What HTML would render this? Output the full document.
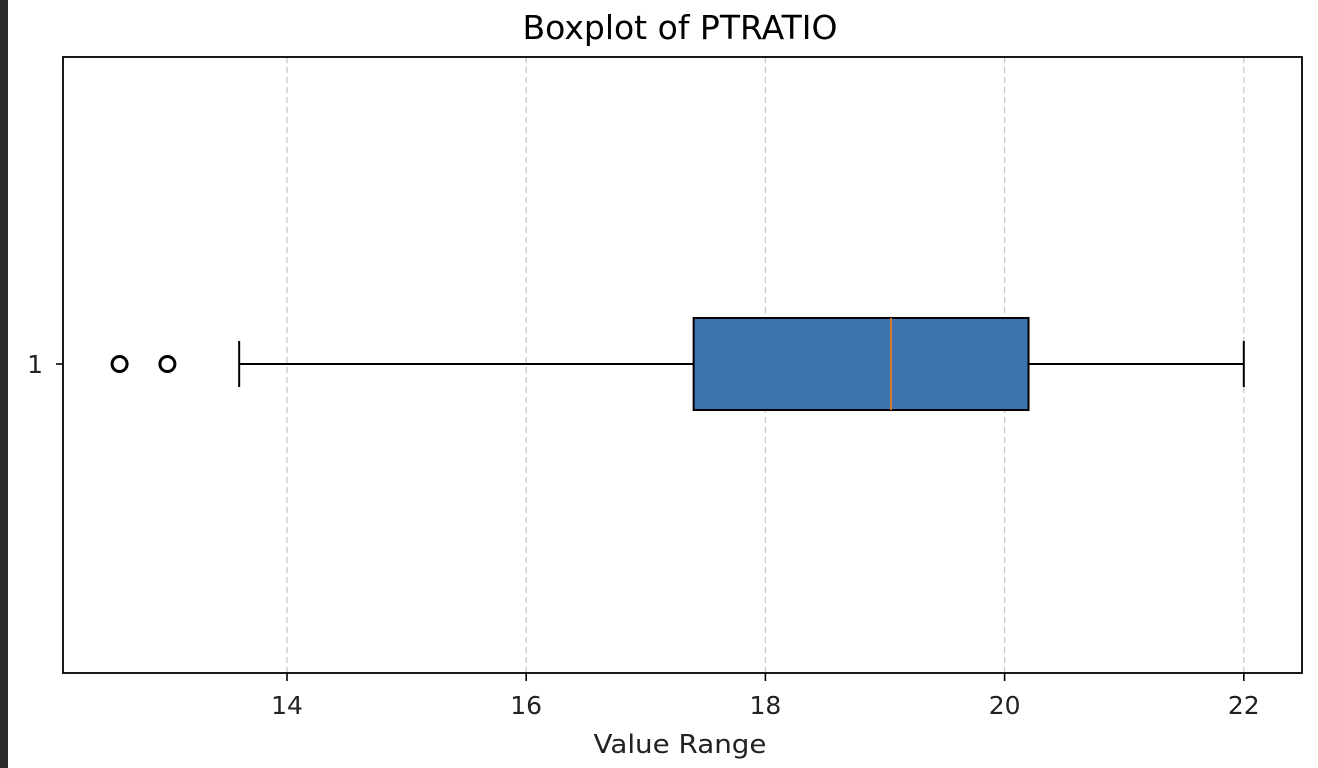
<!DOCTYPE html>
<html><head><meta charset="utf-8"><style>
html,body{margin:0;padding:0;background:#fff;}
svg{display:block;font-family:"DejaVu Sans","Liberation Sans",sans-serif;}
</style></head><body>
<svg id="chart" width="1318" height="768" xmlns="http://www.w3.org/2000/svg">
<rect x="0" y="0" width="8" height="768" fill="#2b2b2b"/>
<text x="680" y="39" text-anchor="middle" font-size="33" fill="#000" textLength="315" lengthAdjust="spacingAndGlyphs">Boxplot of PTRATIO</text>
<g id="grid"></g>
<g id="marks"></g>
<rect x="63" y="57" width="1239" height="616" fill="none" stroke="#000" stroke-width="1.8"/>
<g id="xaxis"></g>
<text x="680" y="753" text-anchor="middle" font-size="26" fill="#222" textLength="173" lengthAdjust="spacingAndGlyphs">Value Range</text>
<line x1="56" y1="364" x2="63" y2="364" stroke="#000" stroke-width="1.6"/>
<text x="43" y="373" text-anchor="end" font-size="25" fill="#222">1</text>
</svg>
<script>
const xTicks = [14, 16, 18, 20, 22];
const whiskerLow = [13.6];
const q1 = [17.4];
const median = [19.05];
const q3 = [20.2];
const whiskerHigh = [22.0];
const outliers = [12.6, 13.0];

const NS = "http://www.w3.org/2000/svg";
const x = v => 287 + (v - 14) * 119.6;
const yc = 364, bh = 46;
function mk(tag, attrs, parent) {
  const e = document.createElementNS(NS, tag);
  for (const k in attrs) e.setAttribute(k, attrs[k]);
  parent.appendChild(e);
  return e;
}
const grid = document.getElementById('grid');
const xa = document.getElementById('xaxis');
const marks = document.getElementById('marks');
xTicks.forEach(t => {
  const g = mk('line', {x1: x(t), x2: x(t), y1: 57, y2: 673, stroke: '#c8c8c8', 'stroke-width': 1.3, 'stroke-dasharray': '6,4'}, grid);
  
  
  const tk = mk('line', {x1: x(t), x2: x(t), y1: 673, y2: 681, stroke: '#000', 'stroke-width': 1.6}, xa);
  
  
  const lb = mk('text', {x: x(t), y: 714, 'text-anchor': 'middle', 'font-size': 25, fill: '#222'}, xa);
  lb.textContent = t;
  
  
});
const wl = mk('line', {x1: x(whiskerLow[0]), x2: x(q1[0]), y1: yc, y2: yc, stroke: '#000', 'stroke-width': 2}, marks);


const wh = mk('line', {x1: x(q3[0]), x2: x(whiskerHigh[0]), y1: yc, y2: yc, stroke: '#000', 'stroke-width': 2}, marks);


const cl = mk('line', {x1: x(whiskerLow[0]), x2: x(whiskerLow[0]), y1: yc - 23, y2: yc + 23, stroke: '#000', 'stroke-width': 2}, marks);


const ch = mk('line', {x1: x(whiskerHigh[0]), x2: x(whiskerHigh[0]), y1: yc - 23, y2: yc + 23, stroke: '#000', 'stroke-width': 2}, marks);


const box = mk('rect', {x: x(q1[0]), y: yc - bh, width: x(q3[0]) - x(q1[0]), height: bh * 2, fill: '#3a73ad', stroke: '#000', 'stroke-width': 2}, marks);


const md = mk('line', {x1: x(median[0]), x2: x(median[0]), y1: yc - bh, y2: yc + bh, stroke: '#e07b28', 'stroke-width': 1.8}, marks);


outliers.forEach(o => {
  const c = mk('circle', {cx: x(o), cy: yc, r: 7.5, fill: 'none', stroke: '#000', 'stroke-width': 3}, marks);
  
  
});
</script>
</body></html>
